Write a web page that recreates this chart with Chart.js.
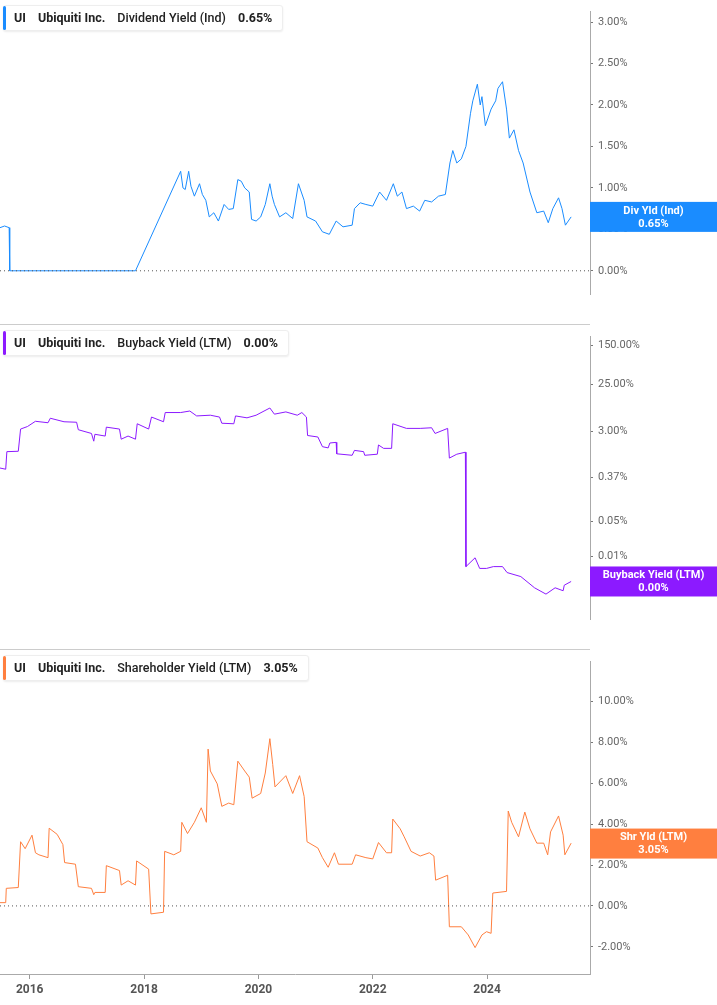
<!DOCTYPE html>
<html>
<head>
<meta charset="utf-8">
<script src="https://cdn.jsdelivr.net/npm/chart.js@4"></script>
<style>
body { margin: 0; background: #fff; font-family: Roboto, "Noto Sans", sans-serif; }
.panel { position: absolute; left: 0; width: 717px; }
.legend { position: absolute; left: 3px; top: 5px; height: 24px; line-height: 24px; padding: 0 10px 0 10px;
  background: #fff; border: 1px solid #eee; border-radius: 3px; font-size: 12.5px; color: #222; white-space: nowrap;
  box-shadow: 0 1px 2px rgba(0,0,0,0.08); }
.legend b { font-weight: 700; margin-right: 12px; }
.legend span { font-weight: 500; margin-right: 12px; }
.legend i { position: absolute; left: -1px; top: 0; bottom: 0; width: 3px; border-radius: 2px; }
</style>
</head>
<body>
<div class="panel" style="top:0;height:325px"><canvas id="c1"></canvas>
  <div class="legend"><i style="background:#1a8cff"></i><b>UI</b><b>Ubiquiti Inc.</b><span>Dividend Yield (Ind)</span><b style="margin:0">0.65%</b></div></div>
<div class="panel" style="top:325px;height:325px"><canvas id="c2"></canvas>
  <div class="legend"><i style="background:#8c1aff"></i><b>UI</b><b>Ubiquiti Inc.</b><span>Buyback Yield (LTM)</span><b style="margin:0">0.00%</b></div></div>
<div class="panel" style="top:650px;height:355px"><canvas id="c3"></canvas>
  <div class="legend"><i style="background:#ff7f3f"></i><b>UI</b><b>Ubiquiti Inc.</b><span>Shareholder Yield (LTM)</span><b style="margin:0">3.05%</b></div></div>
<script>
// dates are decimal years
var divDates = [2015.48,2015.56,2015.64,2015.65,2017.85,2018.64,2018.68,2018.72,2018.78,2018.82,2018.88,2018.97,2019.02,2019.08,2019.14,2019.22,2019.30,2019.40,2019.48,2019.56,2019.64,2019.70,2019.76,2019.84,2019.88,2019.96,2020.04,2020.12,2020.20,2020.24,2020.28,2020.37,2020.48,2020.60,2020.70,2020.75,2020.80,2020.85,2021.00,2021.12,2021.24,2021.36,2021.48,2021.64,2021.68,2021.78,2021.88,2022.00,2022.12,2022.24,2022.36,2022.43,2022.51,2022.59,2022.71,2022.82,2022.91,2023.03,2023.15,2023.27,2023.35,2023.40,2023.47,2023.55,2023.63,2023.71,2023.75,2023.83,2023.88,2023.91,2023.97,2024.07,2024.15,2024.19,2024.27,2024.34,2024.39,2024.47,2024.55,2024.63,2024.75,2024.87,2024.99,2025.07,2025.15,2025.25,2025.31,2025.37,2025.47];
var divValues = [0.52,0.54,0.52,0.0,0.0,1.2,1.0,0.98,1.2,1.02,0.9,1.05,0.92,0.85,0.65,0.7,0.6,0.8,0.74,0.75,1.1,1.08,1.0,0.95,0.62,0.6,0.65,0.8,1.05,0.9,0.8,0.65,0.7,0.63,1.05,0.95,0.85,0.65,0.6,0.47,0.44,0.6,0.53,0.55,0.75,0.82,0.8,0.78,0.95,0.85,1.05,0.9,0.95,0.75,0.78,0.72,0.85,0.83,0.9,0.92,1.3,1.45,1.3,1.35,1.5,1.9,2.05,2.25,2.0,2.1,1.75,1.95,2.05,2.2,2.28,1.95,1.6,1.7,1.45,1.3,0.95,0.7,0.72,0.58,0.75,0.88,0.75,0.55,0.65];

var bbDates = [2015.48,2015.58,2015.60,2015.80,2015.84,2015.96,2016.10,2016.32,2016.36,2016.60,2016.82,2016.85,2017.08,2017.12,2017.14,2017.32,2017.34,2017.57,2017.60,2017.72,2017.85,2017.88,2018.08,2018.13,2018.34,2018.37,2018.64,2018.80,2018.92,2019.16,2019.32,2019.36,2019.57,2019.60,2019.80,2019.96,2020.20,2020.28,2020.48,2020.68,2020.76,2020.84,2020.86,2021.04,2021.12,2021.22,2021.25,2021.36,2021.37,2021.64,2021.68,2021.84,2021.86,2022.08,2022.10,2022.19,2022.33,2022.35,2022.59,2022.83,2023.03,2023.09,2023.31,2023.34,2023.47,2023.62,2023.63,2023.79,2023.87,2023.99,2024.11,2024.27,2024.35,2024.59,2024.83,2025.03,2025.19,2025.33,2025.35,2025.47];
var bbValues = [0.56,0.53,1.18,1.2,3.3,3.7,4.7,4.4,5.4,4.6,4.5,3.2,2.7,1.9,2.6,2.4,3.6,3.3,2.08,2.4,2.08,4.2,3.3,5.7,4.6,7.0,7.0,7.5,6.0,6.2,5.7,4.3,4.2,6.0,5.5,6.2,8.6,6.5,7.2,6.2,7.0,5.7,2.46,2.3,1.48,1.4,1.75,1.8,1.07,1.0,1.25,1.18,1.0,1.05,1.6,1.37,1.37,4.2,3.4,3.4,3.5,2.7,3.4,0.88,1.05,1.15,0.0063,0.0094,0.0058,0.0058,0.0063,0.0063,0.0048,0.0040,0.0024,0.0018,0.0024,0.0021,0.0027,0.0032];
var bbTicks = [150, 25, 3, 0.37, 0.05, 0.01];

var shDates = [2015.48,2015.58,2015.59,2015.80,2015.84,2015.92,2016.04,2016.10,2016.16,2016.32,2016.34,2016.48,2016.58,2016.61,2016.80,2016.85,2017.08,2017.12,2017.14,2017.32,2017.34,2017.57,2017.60,2017.72,2017.85,2017.87,2018.08,2018.12,2018.34,2018.36,2018.52,2018.64,2018.66,2018.76,2018.88,2019.00,2019.09,2019.12,2019.16,2019.28,2019.36,2019.48,2019.57,2019.64,2019.76,2019.84,2019.89,2020.04,2020.12,2020.20,2020.25,2020.29,2020.48,2020.60,2020.72,2020.80,2020.85,2021.04,2021.12,2021.22,2021.33,2021.40,2021.64,2021.70,2021.88,2022.00,2022.10,2022.24,2022.33,2022.35,2022.48,2022.55,2022.67,2022.83,2022.99,2023.07,2023.10,2023.31,2023.34,2023.55,2023.67,2023.79,2023.91,2023.99,2024.07,2024.10,2024.34,2024.37,2024.43,2024.55,2024.66,2024.75,2024.87,2024.99,2025.06,2025.11,2025.25,2025.33,2025.36,2025.47];
var shValues = [0.16,0.16,0.86,0.9,3.14,2.8,3.46,2.6,2.5,2.36,3.8,3.5,3.0,2.12,2.04,0.94,0.86,0.55,0.66,0.66,1.97,1.73,1.02,1.23,1.02,2.2,1.8,-0.39,-0.31,2.67,2.5,2.67,4.09,3.54,4.09,4.8,4.09,7.67,6.6,5.97,4.87,5.03,4.95,7.08,6.6,6.3,5.27,5.5,6.5,8.18,6.92,5.82,6.37,5.5,6.37,5.35,3.14,2.83,2.36,1.89,2.6,2.04,2.04,2.5,2.36,2.3,3.1,2.6,2.6,4.25,3.77,3.38,2.67,2.44,2.6,2.44,1.26,1.5,-1.02,-1.02,-1.42,-2.04,-1.42,-1.26,-1.34,0.63,0.71,4.64,4.09,3.38,4.59,3.77,3.07,3.07,2.5,3.62,4.4,3.46,2.5,3.07];

var yearTicks = [2016, 2018, 2020, 2022, 2024];
var xMin = 2015.48, xMax = 2025.8;

function pts(d, v) { return d.map(function(x, i) { return { x: x, y: v[i] }; }); }

var extras = {
  id: 'extras',
  afterDatasetsDraw: function(chart, args, o) {
    var ctx = chart.ctx, a = chart.chartArea, ys = chart.scales.y;
    ctx.save();
    if (o.zero) {
      var z = ys.getPixelForValue(0);
      ctx.strokeStyle = '#555'; ctx.lineWidth = 1; ctx.setLineDash([1, 3]);
      ctx.beginPath(); ctx.moveTo(a.left, z); ctx.lineTo(a.right, z); ctx.stroke();
      ctx.setLineDash([]);
    }
    if (o.sep) {
      ctx.strokeStyle = '#ccc'; ctx.lineWidth = 1;
      ctx.beginPath(); ctx.moveTo(0, chart.height - 0.5); ctx.lineTo(a.right, chart.height - 0.5); ctx.stroke();
    }
    var y = ys.getPixelForValue(o.last);
    ctx.fillStyle = o.color;
    ctx.fillRect(a.right, y - 15, chart.width - a.right, 30);
    ctx.fillStyle = '#fff';
    ctx.font = 'bold 11px Roboto';
    ctx.textAlign = 'center'; ctx.textBaseline = 'middle';
    var cx = (a.right + chart.width) / 2;
    ctx.fillText(o.label, cx, y - 6);
    ctx.fillText(o.value, cx, y + 7);
    ctx.restore();
  }
};

function makeChart(id, dates, values, color, yScale, showX, extra) {
  var xs = {
    type: 'linear', min: xMin, max: xMax, display: showX,
    afterFit: function(s) { s.height = 31; },
    grid: { drawOnChartArea: false, color: '#999', tickLength: 5 },
    border: { color: '#aaa' },
    afterBuildTicks: function(s) { s.ticks = yearTicks.map(function(v) { return { value: v }; }); },
    ticks: { color: '#555', font: { family: 'Roboto', size: 12, weight: 'bold' }, padding: 4,
      callback: function(v) { return String(v); } }
  };
  yScale.position = 'right';
  yScale.afterFit = function(s) { s.width = 127; };
  yScale.grid = { drawOnChartArea: false, color: '#777', tickLength: 3 };
  yScale.border = { color: '#aaa' };
  yScale.ticks = Object.assign({ color: '#666', font: { family: 'Roboto', size: 11 }, padding: 5 }, yScale.ticks || {});
  return new Chart(document.getElementById(id), {
    type: 'line',
    data: { datasets: [{ data: pts(dates, values), borderColor: color, borderWidth: 1, pointRadius: 0, tension: 0 }] },
    options: {
      responsive: true, maintainAspectRatio: false, animation: false,
      layout: { padding: 0, autoPadding: false },
      plugins: { legend: { display: false }, tooltip: { enabled: false }, extras: extra },
      scales: { x: xs, y: yScale }
    },
    plugins: [extras]
  });
}

makeChart('c1', divDates, divValues, '#1a8cff', {
  type: 'linear', min: -0.28, max: 3.126,
  afterBuildTicks: function(s) { s.ticks = [0, 0.5, 1, 1.5, 2, 2.5, 3].map(function(v) { return { value: v }; }); },
  ticks: { callback: function(v) { return v.toFixed(2) + '%'; } }
}, false, { zero: true, sep: true, last: 0.65, color: '#1a8cff', label: 'Div Yld (Ind)', value: '0.65%' });

makeChart('c2', bbDates, bbValues, '#8c1aff', {
  type: 'logarithmic', min: 0.00058, max: 222,
  afterBuildTicks: function(s) { s.ticks = bbTicks.map(function(v) { return { value: v }; }); },
  ticks: { callback: function(v) { return v.toFixed(2) + '%'; } }
}, false, { zero: false, sep: true, last: 0.0032, color: '#8c1aff', label: 'Buyback Yield (LTM)', value: '0.00%' });

makeChart('c3', shDates, shValues, '#ff7f3f', {
  type: 'linear', min: -3.33, max: 11.95,
  afterBuildTicks: function(s) { s.ticks = [-2, 0, 2, 4, 6, 8, 10].map(function(v) { return { value: v }; }); },
  ticks: { callback: function(v) { return v.toFixed(2) + '%'; } }
}, true, { zero: true, sep: false, last: 3.05, color: '#ff7f3f', label: 'Shr Yld (LTM)', value: '3.05%' });
</script>
</body>
</html>
